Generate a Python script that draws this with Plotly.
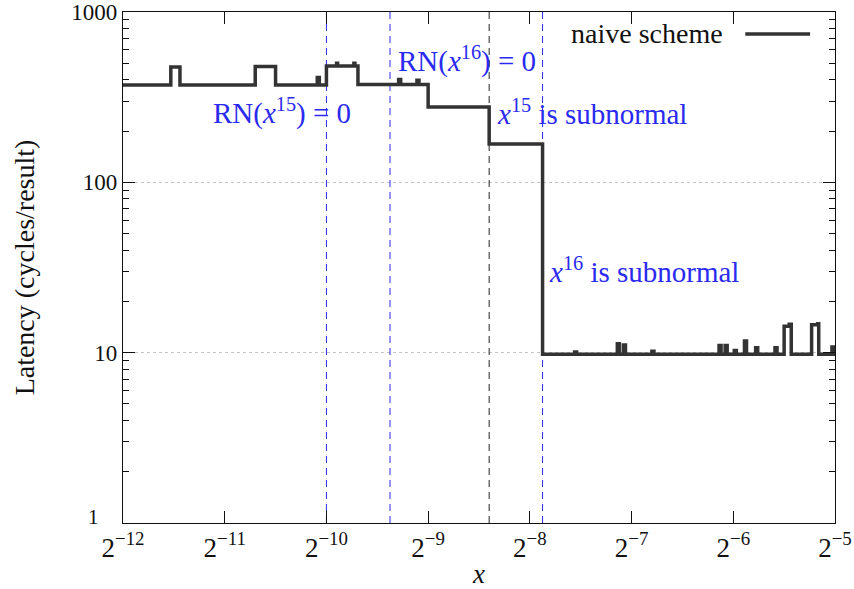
import plotly.graph_objects as go

# Step breakpoints: exponent k (x = 2^k) and latency (cycles/result) from that point on
step_log2x = [-12.00, -11.53, -11.44, -10.70, -10.50, -10.09, -10.07, -10.00, -9.90, -9.89,
              -9.73, -9.72, -9.69, -9.29, -9.27, -9.11, -9.09, -9.00, -8.40, -7.875,
              -7.56, -7.54, -7.14, -7.12, -7.08, -7.06, -6.80, -6.78, -6.14, -6.12,
              -6.08, -6.06, -5.99, -5.97, -5.89, -5.87, -5.78, -5.76, -5.59, -5.57,
              -5.50, -5.45, -5.43, -5.23, -5.17, -5.16, -5.03, -5.01, -5.00]
latency = [373, 475, 373, 478, 373, 412, 373, 482, 500, 482,
           500, 482, 375, 402, 375, 398, 375, 277, 168, 9.8,
           10.1, 9.8, 11.3, 9.8, 11.1, 9.8, 10.2, 9.8, 11.0, 9.8,
           11.0, 9.8, 10.3, 9.8, 11.7, 9.8, 10.7, 9.8, 10.7, 9.8,
           14.3, 14.7, 9.8, 14.6, 14.8, 9.8, 10.8, 9.8, 9.8]

# Threshold lines (exponents): RN(x^15)=0, RN(x^16)=0, x^15 subnormal, x^16 subnormal
thr_log2x = [-10.0, -9.375, -8.4, -7.875]
thr_color = ["#2a2af0", "#2a2af0", "#222222", "#2a2af0"]

xtick_vals = [-12, -11, -10, -9, -8, -7, -6, -5]
xtick_text = ["2<sup>−%d</sup>" % (-k) for k in xtick_vals]
ytick_vals = [1, 10, 100, 1000]
ytick_text = ["", "10", "100", "1000"]   # "1" drawn separately (sits just above 2^-12)

SERIF = "Liberation Serif, DejaVu Serif, serif"
BLUE = "#2a2af0"

fig = go.Figure()
for xv, c in zip(thr_log2x, thr_color):
    fig.add_trace(go.Scatter(x=[xv, xv], y=[1, 1000], mode="lines",
                             line=dict(color=c, width=1, dash="7px,5px"),
                             showlegend=False, hoverinfo="skip"))

fig.add_trace(go.Scatter(x=step_log2x, y=latency, mode="lines", line_shape="hv",
                         line=dict(color="#333333", width=3.5), name="naive scheme",
                         showlegend=False))

ann = [
    (-10.44, 112, "RN(<i>x</i><sup>15</sup>) = 0", "center"),
    (-8.62, 60, "RN(<i>x</i><sup>16</sup>) = 0", "center"),
    (-8.34, 112, "<i>x</i><sup>15</sup> is subnormal", "left"),
    (-7.83, 270, "<i>x</i><sup>16</sup> is subnormal", "left"),
]
for xv, ypix, txt, anc in ann:
    yv = 3 - (ypix - 12) / 170.5
    fig.add_annotation(x=xv, y=yv, xref="x", yref="y", text=txt, showarrow=False,
                       xanchor=anc, yanchor="middle",
                       font=dict(family=SERIF, size=29, color=BLUE))

# y tick label "1"
fig.add_annotation(x=-0.031, y=0, xref="paper", yref="y", text="1", showarrow=False,
                   xanchor="right", yanchor="bottom", yshift=-8,
                   font=dict(family=SERIF, size=21, color="#111111"))

# legend (text left of line)
fig.add_annotation(x=0.845, y=0.957, xref="paper", yref="paper", text="naive scheme",
                   showarrow=False, xanchor="right", yanchor="middle",
                   font=dict(family=SERIF, size=28, color="#111111"))
fig.add_shape(type="line", xref="paper", yref="paper", x0=0.874, x1=0.965, y0=0.957, y1=0.957,
              line=dict(color="#333333", width=3.5))

fig.update_layout(
    width=854, height=589, margin=dict(l=123, r=19, t=12, b=66),
    paper_bgcolor="white", plot_bgcolor="white",
    font=dict(family=SERIF, color="#111111"),
    showlegend=False,
    xaxis=dict(range=[-12, -5], tickmode="array", tickvals=xtick_vals, ticktext=xtick_text,
               ticks="inside", ticklen=12, tickcolor="#111111", showgrid=False, zeroline=False,
               showline=True, linecolor="#111111", linewidth=1.2, mirror="ticks",
               automargin=False,
               tickfont=dict(family=SERIF, size=27),
               title=dict(text="<i>x</i>", font=dict(family=SERIF, size=27), standoff=4)),
    yaxis=dict(type="log", range=[0, 3], tickmode="array", tickvals=ytick_vals, ticktext=ytick_text,
               ticks="inside", ticklen=12, tickcolor="#111111",
               showgrid=True, gridcolor="#c4c4c4", griddash="dot", gridwidth=1,
               showline=True, linecolor="#111111", linewidth=1.2, mirror="ticks",
               automargin=False,
               minor=dict(ticks="inside", ticklen=6, tickcolor="#111111", dtick="D1", showgrid=False),
               tickfont=dict(family=SERIF, size=23),
               title=dict(text="Latency (cycles/result)", font=dict(family=SERIF, size=28), standoff=28)),
)

fig.write_html("out.html")
